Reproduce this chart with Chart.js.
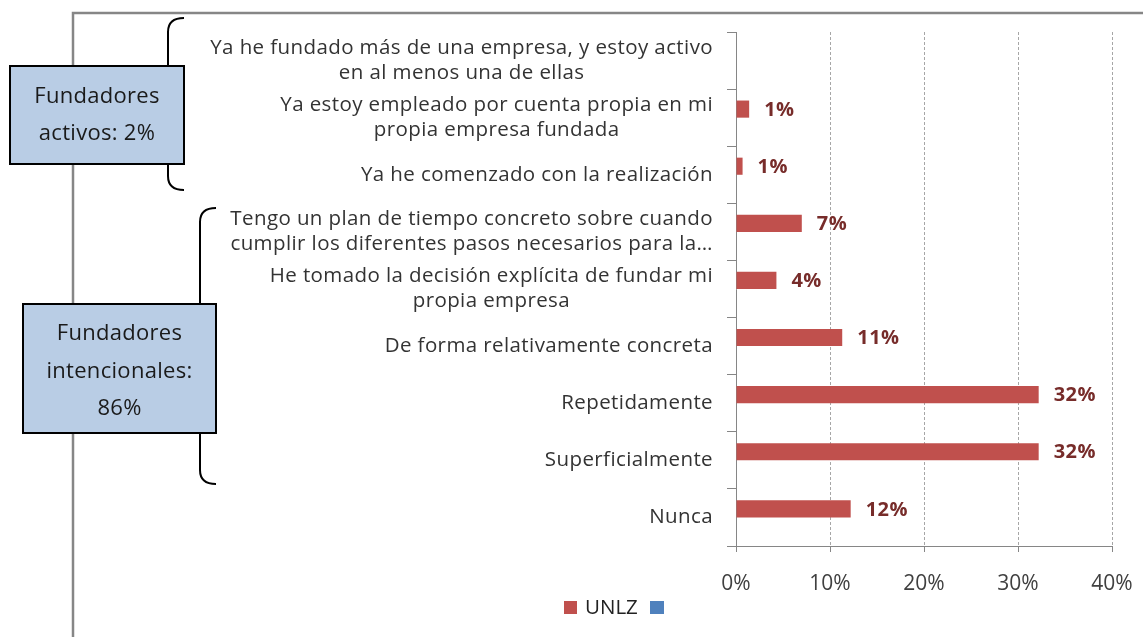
<!DOCTYPE html>
<html>
<head>
<meta charset="utf-8">
<script src="https://cdn.jsdelivr.net/npm/chart.js@4/dist/chart.umd.min.js"></script>
<style>
  html, body { margin: 0; padding: 0; background: #ffffff; }
  #wrap { width: 1143px; height: 637px; position: relative; }
</style>
</head>
<body>
<div id="wrap"><canvas id="c" width="1143" height="637"></canvas></div>
<script>
// ---- data ----
const categories = [
  ["Ya he fundado más de una empresa, y estoy activo", "en al menos una de ellas"],
  ["Ya estoy empleado por cuenta propia en mi", "propia empresa fundada"],
  ["Ya he comenzado con la realización"],
  ["Tengo un plan de tiempo concreto sobre cuando", "cumplir los diferentes pasos necesarios para la…"],
  ["He tomado la decisión explícita de fundar mi", "propia empresa"],
  ["De forma relativamente concreta"],
  ["Repetidamente"],
  ["Superficialmente"],
  ["Nunca"]
];
const unlzValues = [null, 1.4, 0.7, 7.0, 4.3, 11.3, 32.2, 32.2, 12.2];
const secondValues = [null, null, null, null, null, null, null, null, null];
const seriesNames = ["UNLZ", ""];
const xTicks = [0, 10, 20, 30, 40];
const groupBoxes = [
  { lines: ["Fundadores", "activos: 2%"] },
  { lines: ["Fundadores", "intencionales:", "86%"] }
];

const FONT = "'Open Sans', Lato, sans-serif";
const RED = "#C0504D";
const BLUE = "#4F81BD";

function setSpacing(ctx, px) {
  if ('letterSpacing' in ctx) ctx.letterSpacing = px + 'px';
}

const decorPlugin = {
  id: 'decor',
  beforeDraw(chart) {
    const ctx = chart.ctx;
    ctx.save();
    ctx.fillStyle = '#ffffff';
    ctx.fillRect(0, 0, chart.width, chart.height);
    // outer frame (partial)
    ctx.strokeStyle = '#868686';
    ctx.lineWidth = 2.5;
    ctx.beginPath();
    ctx.moveTo(73, 637);
    ctx.lineTo(73, 13);
    ctx.lineTo(1143, 13);
    ctx.stroke();
    ctx.restore();
  },
  afterDraw(chart) {
    const ctx = chart.ctx;
    const y = chart.scales.y;
    ctx.save();
    // category labels (multi-line, centered lines, right-aligned block)
    ctx.font = "20.5px " + FONT;
    setSpacing(ctx, 0.4);
    ctx.fillStyle = '#333333';
    ctx.textBaseline = 'middle';
    ctx.textAlign = 'center';
    const rightEdge = 713, lh = 25;
    categories.forEach((lines, i) => {
      const cy = y.getPixelForValue(i);
      const maxW = Math.max(...lines.map(l => ctx.measureText(l).width));
      const cx = rightEdge - maxW / 2;
      const y0 = cy - (lines.length - 1) * lh / 2;
      lines.forEach((l, k) => ctx.fillText(l, cx, y0 + k * lh));
    });

    // data labels
    const meta = chart.getDatasetMeta(0);
    ctx.font = "bold 20px " + FONT;
    setSpacing(ctx, 0.5);
    ctx.fillStyle = '#772C2A';
    ctx.textAlign = 'left';
    meta.data.forEach((bar, i) => {
      const v = unlzValues[i];
      if (v === null || v === undefined) return;
      ctx.fillText(Math.round(v) + '%', bar.x + 15, bar.y + 1);
    });

    // braces
    ctx.strokeStyle = '#000000';
    ctx.lineWidth = 2;
    function brace(x, xr, top, bottom) {
      ctx.beginPath();
      ctx.moveTo(xr, top);
      ctx.quadraticCurveTo(x, top, x, top + 14);
      ctx.lineTo(x, bottom - 14);
      ctx.quadraticCurveTo(x, bottom, xr, bottom);
      ctx.stroke();
    }
    brace(168, 184, 18, 190);
    brace(200, 216, 208, 484);

    // boxes
    function box(x, yy, w, h, lines, lineYs) {
      ctx.fillStyle = '#B9CDE5';
      ctx.fillRect(x, yy, w, h);
      ctx.strokeStyle = '#000000';
      ctx.lineWidth = 2;
      ctx.strokeRect(x, yy, w, h);
      ctx.fillStyle = '#1a1a1a';
      ctx.font = "22px " + FONT;
      setSpacing(ctx, 0.3);
      ctx.textAlign = 'center';
      ctx.textBaseline = 'middle';
      lines.forEach((l, k) => ctx.fillText(l, x + w / 2, lineYs[k]));
    }
    box(10, 66, 174, 98, groupBoxes[0].lines, [97, 134]);
    box(23, 304, 193, 129, groupBoxes[1].lines, [334, 372, 409]);

    // legend
    ctx.fillStyle = RED;
    ctx.fillRect(564, 601, 13, 13);
    ctx.fillStyle = '#222222';
    ctx.font = "20.5px " + FONT;
    setSpacing(ctx, 0);
    ctx.textAlign = 'left';
    ctx.textBaseline = 'middle';
    ctx.fillText(seriesNames[0], 585, 608);
    ctx.fillStyle = BLUE;
    ctx.fillRect(650, 601, 14, 13);
    ctx.restore();
  }
};

new Chart(document.getElementById('c'), {
  type: 'bar',
  data: {
    labels: categories,
    datasets: [
      { label: seriesNames[0], data: unlzValues, backgroundColor: RED, borderWidth: 0,
        categoryPercentage: 0.6, barPercentage: 1.0 },
      { label: seriesNames[1], data: secondValues, backgroundColor: BLUE, borderWidth: 0,
        categoryPercentage: 0.6, barPercentage: 1.0 }
    ]
  },
  options: {
    indexAxis: 'y',
    responsive: false,
    animation: false,
    devicePixelRatio: 1,
    layout: { padding: { top: 32, right: 31, left: 0, bottom: 0 } },
    plugins: { legend: { display: false }, tooltip: { enabled: false } },
    scales: {
      y: {
        type: 'category',
        offset: true,
        afterFit: s => { s.width = 736; s.paddingTop = 0; s.paddingBottom = 0; },
        ticks: { display: false },
        grid: { offset: true, drawOnChartArea: false, tickLength: 9, color: '#868686' },
        border: { color: '#868686', width: 1 }
      },
      x: {
        min: 0, max: 40,
        afterFit: s => { s.height = 91; s.paddingLeft = 0; s.paddingRight = 0; },
        afterBuildTicks: s => { s.ticks = xTicks.map(v => ({ value: v })); },
        ticks: {
          stepSize: 10,
          padding: 19,
          color: '#404040',
          font: { family: FONT, size: 21 },
          callback: v => v + '%'
        },
        grid: {
          color: c => (c.index === 0 ? 'rgba(0,0,0,0)' : '#a6a6a6'),
          tickColor: '#868686',
          tickLength: 6,
          tickBorderDash: []
        },
        border: { color: '#868686', width: 1, dash: [3, 2] }
      }
    }
  },
  plugins: [decorPlugin]
});
</script>
</body>
</html>
